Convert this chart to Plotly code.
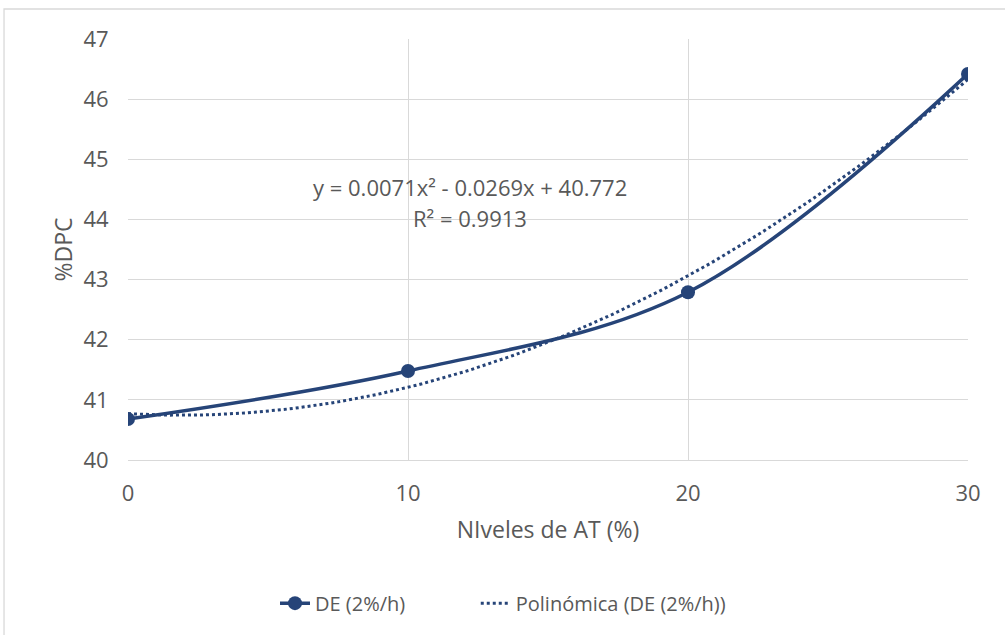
import numpy as np
import plotly.graph_objects as go

niveles = [0, 10, 20, 30]
dpc = [40.68, 41.48, 42.79, 46.42]
y_ticks = [40, 41, 42, 43, 44, 45, 46, 47]
x_ticks = [0, 10, 20, 30]
serie = "DE (2%/h)"
trend_name = "Polinómica (DE (2%/h))"
eq_line1 = "y = 0.0071x² - 0.0269x + 40.772"
eq_line2 = "R² = 0.9913"

color = "#264478"
font_color = "#595959"
font_family = "'Open Sans', sans-serif"

# Excel-style polynomial (order 2) trendline fitted from the data
coef = np.polyfit(niveles, dpc, 2)
xt = np.linspace(min(niveles), max(niveles), 121)
yt = np.polyval(coef, xt)

fig = go.Figure()
fig.add_trace(go.Scatter(
    x=niveles, y=dpc, name=serie, mode="lines+markers", legend="legend",
    line=dict(color=color, width=3.5, shape="spline", smoothing=1.0),
    marker=dict(color=color, size=14),
))
fig.add_trace(go.Scatter(
    x=xt, y=yt, name=trend_name, mode="lines", legend="legend2",
    line=dict(color=color, width=3, dash="dot"),
))

leg_common = dict(orientation="h", y=-0.34, yanchor="middle", xanchor="left",
                  font=dict(size=20, color=font_color), bgcolor="rgba(0,0,0,0)")

fig.update_layout(
    width=1005, height=635,
    margin=dict(l=128, r=37, t=39, b=175),
    paper_bgcolor="white", plot_bgcolor="white",
    font=dict(family=font_family, color=font_color, size=22),
    showlegend=True,
    legend=dict(x=0.175, **leg_common),
    legend2=dict(x=0.414, **leg_common),
    xaxis=dict(range=[0, 30], tickvals=x_ticks, showgrid=True, gridcolor="#d9d9d9",
               gridwidth=1.3, zeroline=False, showline=True, linecolor="#d9d9d9", linewidth=1.3,
               ticks="outside", ticklen=13, tickcolor="rgba(0,0,0,0)",
               tickfont=dict(size=22, color=font_color),
               title=dict(text="NIveles de AT (%)", font=dict(size=23, color=font_color), standoff=16)),
    yaxis=dict(range=[40, 47], tickvals=y_ticks, showgrid=True, gridcolor="#d9d9d9",
               gridwidth=1.3, zeroline=False, showline=False,
               ticks="outside", ticklen=14, tickcolor="rgba(0,0,0,0)",
               tickfont=dict(size=22, color=font_color),
               title=dict(text="%DPC", font=dict(size=23, color=font_color), standoff=4)),
    shapes=[dict(type="rect", xref="paper", yref="paper", x0=-0.1476, x1=1.06, y0=-0.45, y1=1.0713,
                 line=dict(color="#d9d9d9", width=1.3), fillcolor="rgba(0,0,0,0)", layer="below")],
    annotations=[
        dict(text=eq_line1, x=12.21, y=44.54, xref="x", yref="y", showarrow=False,
             font=dict(size=22, color=font_color), xanchor="center", yanchor="middle"),
        dict(text=eq_line2, x=12.21, y=44.02, xref="x", yref="y", showarrow=False,
             font=dict(size=22, color=font_color), xanchor="center", yanchor="middle"),
    ],
)

fig.write_html("out.html")
